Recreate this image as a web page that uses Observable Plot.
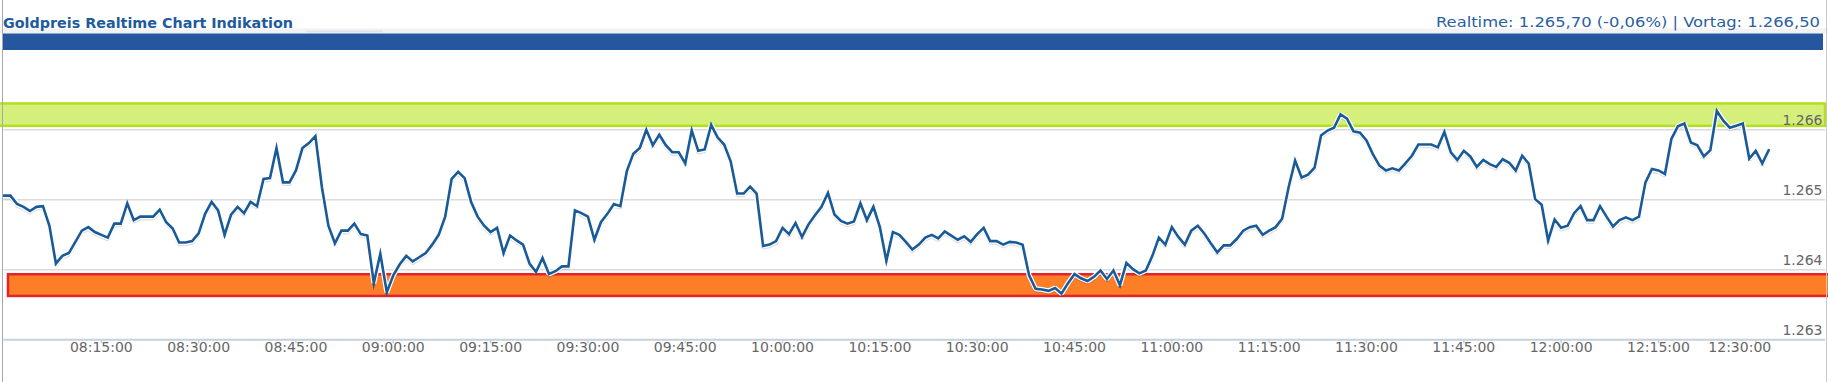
<!DOCTYPE html>
<html>
<head>
<meta charset="utf-8">
<script src="https://cdn.jsdelivr.net/npm/d3@7"></script>
<script src="https://cdn.jsdelivr.net/npm/@observablehq/plot@0.6"></script>
<style>
html, body { margin: 0; padding: 0; background: #fff; }
#wrap { position: relative; width: 1828px; height: 382px; overflow: hidden; font-family: "DejaVu Sans", Verdana, sans-serif; }
#hdr { position: absolute; left: 0; top: 0; }
#chart { position: absolute; left: 0; top: 56px; }
#frame { position: absolute; left: 0; top: 0; pointer-events: none; }
</style>
</head>
<body>
<div id="wrap">
  <div id="hdr"></div>
  <div id="chart"></div>
  <div id="frame"></div>
</div>
<script>
// ---------- texts ----------
const titleText = "Goldpreis Realtime Chart Indikation";
const quoteText = "Realtime: 1.265,70 (-0,06%) | Vortag: 1.266,50";

// ---------- time axis ----------
const startTime = "08:00:00";     // first quote
const stepMinutes = 1;            // one quote per minute
const xStart = "08:00:00";
const xEnd = "12:40:45";
const xTickLabels = ["08:15:00","08:30:00","08:45:00","09:00:00","09:15:00","09:30:00","09:45:00",
  "10:00:00","10:15:00","10:30:00","10:45:00","11:00:00","11:15:00","11:30:00","11:45:00",
  "12:00:00","12:15:00","12:30:00"];

// ---------- value axis ----------
const yTicks = [1.263, 1.264, 1.265, 1.266];
const yDomain = [1.263, 1.267048];

// ---------- zones ----------
const resistanceZone = [1.26605, 1.26637];
const supportZone = [1.26362, 1.26393];

// ---------- prices (one per minute) ----------
const prices08 = [
  1.26506, 1.26506, 1.26494, 1.26490, 1.26484, 1.26490, 1.26491, 1.26463, 1.26409, 1.26420,
  1.26424, 1.26440, 1.26456, 1.26461, 1.26454, 1.26450, 1.26446, 1.26466, 1.26466, 1.26495,
  1.26471, 1.26476, 1.26476, 1.26476, 1.26486, 1.26468, 1.26459, 1.26439, 1.26439, 1.26441,
  1.26452, 1.26480, 1.26497, 1.26485, 1.26450, 1.26479, 1.26490, 1.26481, 1.26497, 1.26491,
  1.26530, 1.26531, 1.26574, 1.26525, 1.26525, 1.26542, 1.26574, 1.26581, 1.26591, 1.26518,
  1.26463, 1.26438, 1.26456, 1.26456, 1.26466, 1.26451, 1.26449, 1.26381, 1.26423, 1.26368];
const prices09 = [
  1.26392, 1.26408, 1.26420, 1.26412, 1.26418, 1.26424, 1.26436, 1.26450, 1.26476, 1.26530,
  1.26540, 1.26531, 1.26497, 1.26476, 1.26463, 1.26454, 1.26460, 1.26424, 1.26449, 1.26442,
  1.26436, 1.26409, 1.26397, 1.26417, 1.26394, 1.26398, 1.26405, 1.26405, 1.26485, 1.26481,
  1.26476, 1.26443, 1.26468, 1.26480, 1.26494, 1.26491, 1.26541, 1.26566, 1.26574, 1.26600,
  1.26578, 1.26593, 1.26578, 1.26568, 1.26568, 1.26552, 1.26599, 1.26570, 1.26572, 1.26607,
  1.26589, 1.26579, 1.26555, 1.26509, 1.26509, 1.26519, 1.26509, 1.26434, 1.26436, 1.26441];
const prices10 = [
  1.26460, 1.26451, 1.26467, 1.26447, 1.26465, 1.26478, 1.26490, 1.26510, 1.26479, 1.26470,
  1.26466, 1.26469, 1.26495, 1.26471, 1.26490, 1.26461, 1.26413, 1.26454, 1.26450, 1.26440,
  1.26429, 1.26436, 1.26446, 1.26450, 1.26445, 1.26455, 1.26449, 1.26443, 1.26448, 1.26440,
  1.26451, 1.26460, 1.26441, 1.26441, 1.26436, 1.26440, 1.26439, 1.26436, 1.26392, 1.26373,
  1.26372, 1.26370, 1.26374, 1.26366, 1.26381, 1.26394, 1.26388, 1.26384, 1.26390, 1.26399,
  1.26387, 1.26399, 1.26378, 1.26410, 1.26401, 1.26395, 1.26399, 1.26420, 1.26446, 1.26436];
const prices11 = [
  1.26461, 1.26447, 1.26436, 1.26456, 1.26463, 1.26452, 1.26438, 1.26425, 1.26435, 1.26435,
  1.26444, 1.26456, 1.26461, 1.26463, 1.26450, 1.26456, 1.26461, 1.26473, 1.26518, 1.26556,
  1.26532, 1.26536, 1.26546, 1.26592, 1.26599, 1.26603, 1.26622, 1.26616, 1.26598, 1.26596,
  1.26585, 1.26565, 1.26549, 1.26542, 1.26545, 1.26542, 1.26552, 1.26563, 1.26579, 1.26579,
  1.26579, 1.26575, 1.26597, 1.26568, 1.26557, 1.26570, 1.26562, 1.26547, 1.26557, 1.26551,
  1.26547, 1.26558, 1.26553, 1.26542, 1.26563, 1.26552, 1.26501, 1.26493, 1.26442, 1.26472];
const prices12 = [
  1.26460, 1.26463, 1.26481, 1.26491, 1.26471, 1.26471, 1.26491, 1.26476, 1.26462, 1.26471,
  1.26475, 1.26471, 1.26476, 1.26525, 1.26544, 1.26542, 1.26537, 1.26587, 1.26605, 1.26609,
  1.26582, 1.26578, 1.26562, 1.26571, 1.26627, 1.26613, 1.26603, 1.26606, 1.26609, 1.26559,
  1.26570, 1.26552, 1.26571];

// ---------- build ----------
const parseT = s => { const [h, m, sec] = s.split(":").map(Number); return new Date(Date.UTC(2000, 0, 1, h, m, sec || 0)); };
const prices = [...prices08, ...prices09, ...prices10, ...prices11, ...prices12];
const t0 = parseT(startTime);
const series = prices.map((v, i) => ({ t: new Date(+t0 + i * stepMinutes * 60000), v }));
const xTicks = xTickLabels.map(parseT);
const lastTick = xTicks[xTicks.length - 1];
const fmtTime = d3.utcFormat("%H:%M:%S");
const fmtY = d3.format(".3f");
const W = 1828, H = 382;

// header
const hdr = d3.select("#hdr").append("svg").attr("width", W).attr("height", 56);
hdr.append("rect").attr("x", 0).attr("y", 28.5).attr("width", W).attr("height", 5).attr("fill", "#f2f2f2");
hdr.append("rect").attr("x", 306).attr("y", 30.5).attr("width", 77).attr("height", 2).attr("fill", "#dfe4ec");
hdr.append("rect").attr("x", 3).attr("y", 33.5).attr("width", 1820).attr("height", 16.5).attr("fill", "#24579e");
hdr.append("line").attr("x1", 3).attr("x2", 1825).attr("y1", 56.5).attr("y2", 56.5).attr("stroke", "#c4c4c4");
hdr.append("text").attr("x", 3).attr("y", 27.5).attr("font-size", 14.5).attr("font-weight", "bold")
  .attr("fill", "#1d5b9c").attr("textLength", 290).attr("lengthAdjust", "spacingAndGlyphs").text(titleText);
hdr.append("text").attr("x", 1820).attr("y", 27).attr("font-size", 14).attr("text-anchor", "end")
  .attr("fill", "#2a60a2").attr("textLength", 384).attr("lengthAdjust", "spacingAndGlyphs").text(quoteText);

// chart
const chart = Plot.plot({
  width: W,
  height: H - 56,
  marginLeft: 3.5,
  marginRight: 3,
  marginTop: 0,
  marginBottom: 42.67,
  x: { type: "utc", domain: [parseT(xStart), parseT(xEnd)], axis: null, label: null },
  y: { domain: yDomain, axis: null, label: null },
  style: { fontFamily: "DejaVu Sans, Verdana, sans-serif", background: "transparent", overflow: "visible" },
  marks: [
    Plot.ruleY(yTicks.slice(1), { stroke: "#c9c9c9", strokeWidth: 1 }),
    Plot.ruleY(yTicks.slice(0, 1), { stroke: "#c6d1de", strokeWidth: 2 }),
    Plot.axisX({ ticks: xTicks, tickSize: 4, stroke: "#c6d1de", strokeWidth: 1.5, tickFormat: () => "", label: null }),
    Plot.rect([resistanceZone], { x1: () => parseT(xStart), x2: () => parseT(xEnd), y1: d => d[0], y2: d => d[1],
      fill: "#d5ef7b", stroke: "#b3e01e", strokeWidth: 2.5, insetLeft: -6 }),
    Plot.rect([supportZone], { x1: () => parseT(xStart), x2: () => parseT(xEnd), y1: d => d[0], y2: d => d[1],
      fill: "#fd7e27", stroke: "#e6222b", strokeWidth: 2.5, insetLeft: 4.5, insetRight: -8 }),
    Plot.line(series, { x: "t", y: "v", stroke: "#000", strokeOpacity: 0.13, strokeWidth: 3.5, dy: 2, strokeLinejoin: "miter" }),
    Plot.line(series, { x: "t", y: "v", stroke: "#fff", strokeWidth: 5, strokeLinejoin: "miter" }),
    Plot.line(series, { x: "t", y: "v", stroke: "#195a98", strokeWidth: 2.6, strokeLinejoin: "miter", strokeMiterlimit: 6 }),
    Plot.text(yTicks, { y: d => d, text: d => fmtY(d), frameAnchor: "right", textAnchor: "end", dx: -3, dy: -9.5,
      fill: "#666", fontSize: 14 }),
    Plot.text(xTicks.slice(0, -1), { x: d => d, text: d => fmtTime(d), frameAnchor: "bottom", dy: 12,
      fill: "#666", fontSize: 14 }),
    Plot.text([lastTick], { x: d => d, text: d => fmtTime(d), frameAnchor: "bottom", dy: 12, dx: -16,
      fill: "#666", fontSize: 14 })
  ]
});
document.getElementById("chart").appendChild(chart);

// page frame lines
const fr = d3.select("#frame").append("svg").attr("width", W).attr("height", H);
fr.append("line").attr("x1", 2.5).attr("x2", 2.5).attr("y1", 0).attr("y2", H).attr("stroke", "#a4a9b0");
fr.append("line").attr("x1", 1826.5).attr("x2", 1826.5).attr("y1", 0).attr("y2", H).attr("stroke", "#c8c8c8");
</script>
</body>
</html>
